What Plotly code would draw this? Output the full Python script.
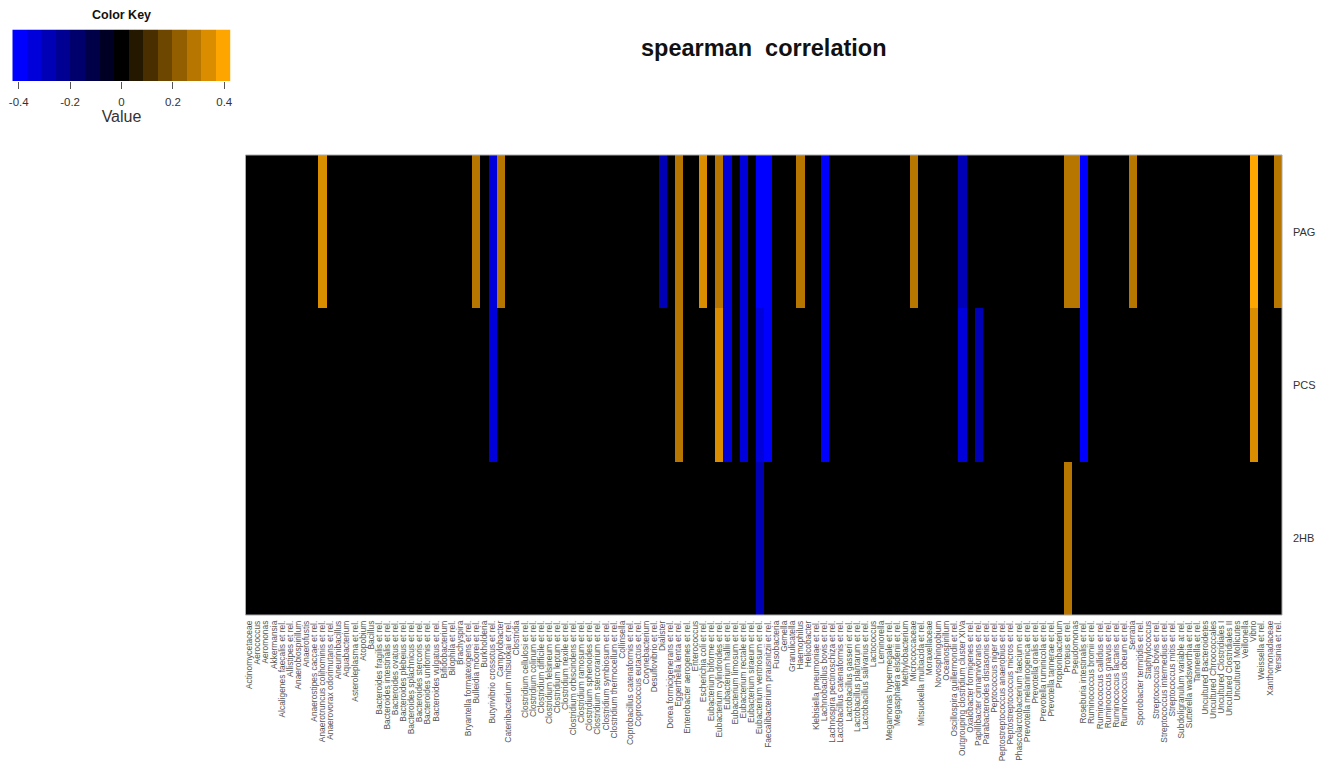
import plotly.graph_objects as go

# ---------------- data ----------------
taxa = [
    "Actinomycetaceae", "Aerococcus", "Aeromonas", "Akkermansia", "Alcaligenes faecalis et rel.",
    "Allistipes et rel.", "Anaerobiospirillum", "Anaerofustis", "Anaerostipes caccae et rel.",
    "Anaerotruncus colihominis et rel.", "Anaerovorax odorimutans et rel.", "Aneurinibacillus",
    "Aquabacterium", "Asteroleplasma et rel.", "Atopobium", "Bacillus", "Bacteroides fragilis et rel.",
    "Bacteroides intestinalis et rel.", "Bacteroides ovatus et rel.", "Bacteroides plebeius et rel.",
    "Bacteroides splachnicus et rel.", "Bacteroides stercoris et rel.", "Bacteroides uniformis et rel.",
    "Bacteroides vulgatus et rel.", "Bifidobacterium", "Bilophila et rel.", "Brachyspira",
    "Bryantella formatexigens et rel.", "Bulleidia moorei et rel.", "Burkholderia",
    "Butyrivibrio crossotus et rel.", "Campylobacter", "Catenibacterium mitsuokai et rel.", "Clostridia",
    "Clostridium cellulosi et rel.", "Clostridium colinum et rel.", "Clostridium difficile et rel.",
    "Clostridium felsineum et rel.", "Clostridium leptum et rel.", "Clostridium nexile et rel.",
    "Clostridium orbiscindens et rel.", "Clostridium ramosum et rel.", "Clostridium sphenoides et rel.",
    "Clostridium stercorarium et rel.", "Clostridium symbiosum et rel.", "Clostridium thermocellum et rel.",
    "Collinsella", "Coprobacillus catenaformis et rel.", "Coprococcus eutactus et rel.", "Corynebacterium",
    "Desulfovibrio et rel.", "Dialister", "Dorea formicigenerans et rel.", "Eggerthella lenta et rel.",
    "Enterobacter aerogenes et rel.", "Enterococcus", "Escherichia coli et rel.", "Eubacterium biforme et rel.",
    "Eubacterium cylindroides et rel.", "Eubacterium hallii et rel.", "Eubacterium limosum et rel.",
    "Eubacterium rectale et rel.", "Eubacterium siraeum et rel.", "Eubacterium ventriosum et rel.",
    "Faecalibacterium prausnitzii et rel.", "Fusobacteria", "Gemella", "Granulicatella", "Haemophilus",
    "Helicobacter", "Klebisiella pneumoniae et rel.", "Lachnobacillus bovis et rel.",
    "Lachnospira pectinoschiza et rel.", "Lactobacillus catenaformis et rel.", "Lactobacillus gasseri et rel.",
    "Lactobacillus plantarum et rel.", "Lactobacillus salivarius et rel.", "Lactococcus", "Leminorella",
    "Megamonas hypermegale et rel.", "Megasphaera elsdenii et rel.", "Methylobacterium", "Micrococcaceae",
    "Mitsuokella multiacida et rel.", "Moraxellaceae", "Novosphingobium", "Oceanospirillum",
    "Oscillospira guillermondii et rel.", "Outgrouping clostridium cluster XIVa",
    "Oxalobacter formigenes et rel.", "Papillibacter cinnamivorans et rel.",
    "Parabacteroides distasonis et rel.", "Peptococcus niger et rel.",
    "Peptostreptococcus anaerobius et rel.", "Peptostreptococcus micros et rel.",
    "Phascolarctobacterium faecium et rel.", "Prevotella melaninogenica et rel.", "Prevotella oralis et rel.",
    "Prevotella ruminicola et rel.", "Prevotella tannerae et rel.", "Propionibacterium", "Proteus et rel.",
    "Pseudomonas", "Roseburia intestinalis et rel.", "Ruminococcus bromii et rel.",
    "Ruminococcus callidus et rel.", "Ruminococcus gnavus et rel.", "Ruminococcus lactaris et rel.",
    "Ruminococcus obeum et rel.", "Serratia", "Sporobacter termitidis et rel.", "Staphylococcus",
    "Streptococcus bovis et rel.", "Streptococcus intermedius et rel.", "Streptococcus mitis et rel.",
    "Subdoligranulum variable at rel.", "Sutterella wadsworthia et rel.", "Tannerella et rel.",
    "Uncultured Bacteroidetes", "Uncultured Chroococcales", "Uncultured Clostridiales I",
    "Uncultured Clostridiales II", "Uncultured Mollicutes", "Veillonella", "Vibrio", "Weissella et rel.",
    "Xanthomonadaceae", "Yersinia et rel.",
]

rows = ["PAG", "PCS", "2HB"]

# non-zero Spearman correlations (all other cells are 0)
pag_corr = {
    "Anaerotruncus colihominis et rel.": 0.35,
    "Bulleidia moorei et rel.": 0.30,
    "Butyrivibrio crossotus et rel.": -0.35,
    "Campylobacter": 0.30,
    "Dialister": -0.30,
    "Eggerthella lenta et rel.": 0.30,
    "Escherichia coli et rel.": 0.35,
    "Eubacterium cylindroides et rel.": 0.30,
    "Eubacterium hallii et rel.": -0.35,
    "Eubacterium rectale et rel.": -0.35,
    "Eubacterium ventriosum et rel.": -0.40,
    "Faecalibacterium prausnitzii et rel.": -0.40,
    "Haemophilus": 0.30,
    "Lachnobacillus bovis et rel.": -0.40,
    "Micrococcaceae": 0.30,
    "Outgrouping clostridium cluster XIVa": -0.30,
    "Proteus et rel.": 0.30,
    "Pseudomonas": 0.30,
    "Roseburia intestinalis et rel.": -0.40,
    "Serratia": 0.30,
    "Vibrio": 0.41,
    "Yersinia et rel.": 0.30,
}
pcs_corr = {
    "Butyrivibrio crossotus et rel.": -0.35,
    "Eggerthella lenta et rel.": 0.30,
    "Eubacterium cylindroides et rel.": 0.35,
    "Eubacterium hallii et rel.": -0.35,
    "Eubacterium rectale et rel.": -0.35,
    "Eubacterium ventriosum et rel.": -0.35,
    "Faecalibacterium prausnitzii et rel.": -0.40,
    "Lachnobacillus bovis et rel.": -0.40,
    "Outgrouping clostridium cluster XIVa": -0.35,
    "Papillibacter cinnamivorans et rel.": -0.30,
    "Roseburia intestinalis et rel.": -0.40,
    "Vibrio": 0.35,
}
hb2_corr = {
    "Eubacterium ventriosum et rel.": -0.30,
    "Proteus et rel.": 0.30,
}

key_ticks = [-0.4, -0.2, 0, 0.2, 0.4]
key_ticktext = ["-0.4", "-0.2", "0", "0.2", "0.4"]

# ---------------- colour scale (15 discrete bins, blue-black-orange) ----------------
ZMIN, ZMAX, NBINS = -0.425, 0.425, 15
bin_colors = []
for k in range(NBINS):
    if k < 7:
        bin_colors.append(f"rgb(0,0,{round(255 * (7 - k) / 7)})")
    elif k == 7:
        bin_colors.append("rgb(0,0,0)")
    else:
        f = (k - 7) / 7
        bin_colors.append(f"rgb({round(255 * f)},{round(165 * f)},0)")
colorscale = []
for k, c in enumerate(bin_colors):
    colorscale.append([k / NBINS, c])
    colorscale.append([(k + 1) / NBINS, c])

z = [[d.get(t, 0.0) for t in taxa] for d in (pag_corr, pcs_corr, hb2_corr)]

step = (ZMAX - ZMIN) / NBINS
key_centers = [ZMIN + step * (k + 0.5) for k in range(NBINS)]

W, H = 1324, 773
def px_x(v):
    return v / W
def px_y(v):
    return 1 - v / H

fig = go.Figure()

fig.add_trace(go.Heatmap(
    z=z, x=taxa, y=rows, colorscale=colorscale, zmin=ZMIN, zmax=ZMAX,
    showscale=False, xaxis="x", yaxis="y",
))

fig.add_trace(go.Heatmap(
    z=[key_centers], x=key_centers, y=[0], colorscale=colorscale, zmin=ZMIN, zmax=ZMAX,
    showscale=False, xaxis="x2", yaxis="y2", hoverinfo="skip",
))

FONT = "Liberation Sans, Arial, sans-serif"

fig.update_layout(
    width=W, height=H,
    margin=dict(l=0, r=0, t=0, b=0),
    paper_bgcolor="white", plot_bgcolor="white",
    font=dict(family=FONT, color="#222"),
    showlegend=False,
    xaxis=dict(
        domain=[px_x(245.5), px_x(1282)], anchor="y", type="category",
        tickmode="array", tickvals=taxa, ticktext=taxa, tickangle=-90,
        tickfont=dict(size=8.4, color="#555", family=FONT), ticks="",
        showgrid=False, zeroline=False, showline=False, automargin=False,
        ticklabelstandoff=3,
    ),
    yaxis=dict(
        domain=[px_y(615), px_y(155)], anchor="x", type="category",
        autorange="reversed", side="right", ticks="",
        tickfont=dict(size=11, color="#333", family=FONT),
        showgrid=False, zeroline=False, showline=False, automargin=False,
        ticklabelstandoff=10,
    ),
    xaxis2=dict(
        domain=[px_x(12.3), px_x(230.7)], anchor="y2", range=[ZMIN, ZMAX],
        tickmode="array", tickvals=key_ticks, ticktext=key_ticktext,
        ticks="outside", ticklen=7, tickcolor="#555", tickwidth=1,
        tickfont=dict(size=11.5, color="#333", family=FONT),
        ticklabelstandoff=3,
        title=dict(text="Value", font=dict(size=16, color="#333", family=FONT), standoff=2),
        showgrid=False, zeroline=False, showline=False, automargin=False,
    ),
    yaxis2=dict(
        domain=[px_y(81), px_y(29.5)], anchor="x2", showticklabels=False, ticks="",
        showgrid=False, zeroline=False, showline=False, automargin=False,
    ),
    shapes=[
        dict(type="rect", xref="paper", yref="paper",
             x0=px_x(245.5), x1=px_x(1282), y0=px_y(615), y1=px_y(155),
             line=dict(color="#aaaaaa", width=1)),
    ],
    annotations=[
        dict(text="<b>spearman\u00a0 correlation</b>", xref="paper", yref="paper",
             x=px_x(763.5), y=px_y(48), xanchor="center", yanchor="middle",
             showarrow=False, font=dict(size=23.5, color="#111", family=FONT)),
        dict(text="<b>Color Key</b>", xref="paper", yref="paper",
             x=px_x(121.5), y=px_y(15), xanchor="center", yanchor="middle",
             showarrow=False, font=dict(size=12.5, color="#111", family=FONT)),
    ],
)

fig.write_html("out.html")
